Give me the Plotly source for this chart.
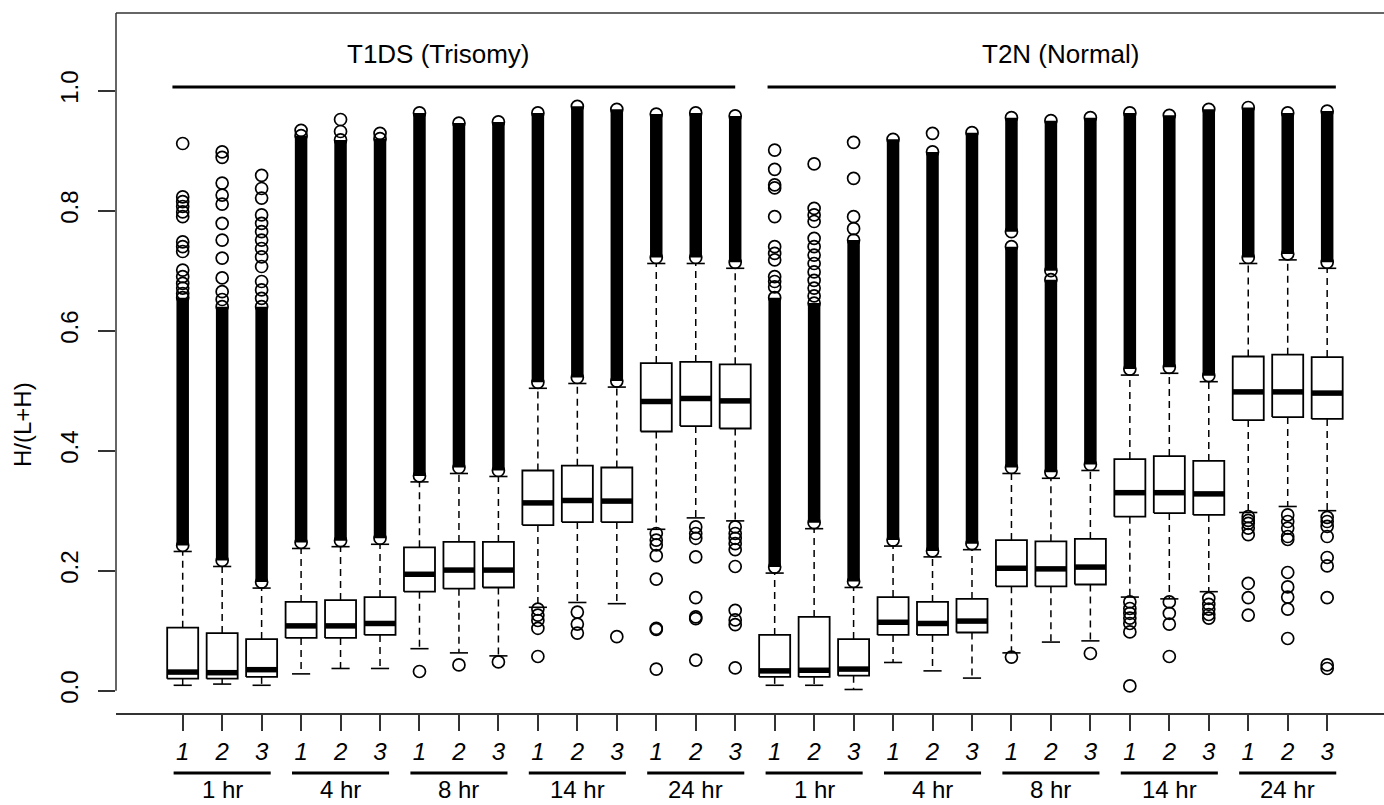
import plotly.graph_objects as go

# ---------------- data ----------------
groups = ["T1DS (Trisomy)", "T2N (Normal)"]
times = ["1 hr", "4 hr", "8 hr", "14 hr", "24 hr"]
reps = ["1", "2", "3"]

q1 = [0.020, 0.020, 0.023, 0.088, 0.088, 0.093, 0.165, 0.170, 0.172, 0.276, 0.281, 0.281, 0.432, 0.441, 0.437,
      0.023, 0.023, 0.025, 0.093, 0.093, 0.097, 0.174, 0.174, 0.177, 0.290, 0.296, 0.293, 0.451, 0.456, 0.453]
median = [0.031, 0.030, 0.035, 0.108, 0.108, 0.112, 0.194, 0.201, 0.201, 0.313, 0.317, 0.316, 0.482, 0.487, 0.483,
          0.033, 0.034, 0.036, 0.114, 0.112, 0.116, 0.204, 0.203, 0.206, 0.330, 0.330, 0.328, 0.498, 0.498, 0.496]
q3 = [0.105, 0.096, 0.086, 0.148, 0.151, 0.156, 0.239, 0.248, 0.248, 0.367, 0.375, 0.372, 0.546, 0.548, 0.544,
      0.093, 0.123, 0.086, 0.156, 0.148, 0.153, 0.251, 0.249, 0.253, 0.386, 0.391, 0.383, 0.557, 0.560, 0.556]
lower_whisker = [0.009, 0.011, 0.009, 0.028, 0.037, 0.037, 0.070, 0.063, 0.058, 0.139, 0.147, 0.145, 0.269, 0.288, 0.283,
                 0.009, 0.009, 0.002, 0.047, 0.033, 0.021, 0.063, 0.081, 0.083, 0.156, 0.153, 0.165, 0.297, 0.307, 0.300]
upper_whisker = [0.232, 0.207, 0.171, 0.237, 0.240, 0.244, 0.348, 0.362, 0.357, 0.504, 0.512, 0.506, 0.712, 0.712, 0.704,
                 0.196, 0.270, 0.172, 0.241, 0.223, 0.235, 0.362, 0.354, 0.367, 0.526, 0.529, 0.515, 0.712, 0.718, 0.704]

# dense runs of overlapping outlier circles (lowest / highest circle centre)
dense_lo = [0.242, 0.217, 0.181, 0.247, 0.250, 0.254, 0.358, 0.372, 0.367, 0.514, 0.522, 0.516, 0.722, 0.722, 0.714,
            0.206, 0.280, 0.182, 0.251, 0.233, 0.245, 0.372, 0.364, 0.377, 0.536, 0.539, 0.525, 0.722, 0.728, 0.714]
dense_hi = [0.655, 0.640, 0.640, 0.925, 0.918, 0.920, 0.963, 0.946, 0.948, 0.963, 0.974, 0.969, 0.961, 0.963, 0.958,
            0.655, 0.646, 0.751, 0.919, 0.898, 0.930, 0.955, 0.950, 0.955, 0.963, 0.959, 0.969, 0.972, 0.963, 0.966]
# visible gaps inside a dense run (None = no gap)
dense_gap_lo = [None] * 21 + [0.740, 0.685] + [None] * 7
dense_gap_hi = [None] * 21 + [0.765, 0.700] + [None] * 7

upper_outliers = [
    [0.912, 0.823, 0.815, 0.807, 0.798, 0.790, 0.748, 0.740, 0.732, 0.701, 0.690, 0.679, 0.671, 0.662],
    [0.898, 0.889, 0.846, 0.826, 0.811, 0.779, 0.751, 0.721, 0.688, 0.665, 0.652],
    [0.859, 0.837, 0.821, 0.793, 0.779, 0.765, 0.751, 0.737, 0.723, 0.707, 0.682, 0.668, 0.654],
    [0.934], [0.952, 0.932], [0.929],
    [], [], [], [], [], [], [], [], [],
    [0.901, 0.869, 0.843, 0.838, 0.790, 0.740, 0.729, 0.718, 0.690, 0.682, 0.673],
    [0.878, 0.804, 0.793, 0.782, 0.754, 0.740, 0.726, 0.712, 0.698, 0.684, 0.671, 0.658],
    [0.914, 0.854, 0.790, 0.770],
    [], [0.929], [],
    [], [], [], [], [], [], [], [], [],
]
lower_outliers = [
    [], [], [], [], [], [],
    [0.032], [0.043], [0.048],
    [0.136, 0.126, 0.117, 0.104, 0.057],
    [0.131, 0.111, 0.096],
    [0.090],
    [0.262, 0.251, 0.243, 0.225, 0.186, 0.104, 0.102, 0.036],
    [0.273, 0.262, 0.254, 0.223, 0.155, 0.123, 0.120, 0.051],
    [0.273, 0.262, 0.254, 0.245, 0.235, 0.207, 0.134, 0.118, 0.110, 0.038],
    [], [], [], [], [], [],
    [0.056], [], [0.062],
    [0.148, 0.137, 0.129, 0.121, 0.112, 0.098, 0.008],
    [0.148, 0.129, 0.111, 0.057],
    [0.154, 0.144, 0.136, 0.127, 0.121],
    [0.290, 0.284, 0.279, 0.271, 0.260, 0.179, 0.155, 0.126],
    [0.293, 0.282, 0.271, 0.257, 0.252, 0.197, 0.173, 0.156, 0.136, 0.087],
    [0.289, 0.282, 0.274, 0.257, 0.222, 0.208, 0.155, 0.043, 0.037],
]

y_ticks = [0.0, 0.2, 0.4, 0.6, 0.8, 1.0]
y_label = "H/(L+H)"

# ---------------- styling / layout constants ----------------
FONT = "Liberation Sans, Arial, Helvetica, sans-serif"
BOX_HW = 0.393
CAP_HW = 0.23
X_RANGE = [-0.69, 31.44]
Y_RANGE = [-0.0372, 1.1295]

n = len(q1)
xs = list(range(1, n + 1))

fig = go.Figure()

# whiskers (dashed)
wx, wy = [], []
for i, x in enumerate(xs):
    wx += [x, x, None, x, x, None]
    wy += [q3[i], upper_whisker[i], None, q1[i], lower_whisker[i], None]
fig.add_trace(go.Scatter(x=wx, y=wy, mode="lines", hoverinfo="skip",
                         line=dict(color="black", width=1.5, dash="7px,5px")))

# whisker caps
cx, cy = [], []
for i, x in enumerate(xs):
    for v in (lower_whisker[i], upper_whisker[i]):
        cx += [x - CAP_HW, x + CAP_HW, None]
        cy += [v, v, None]
fig.add_trace(go.Scatter(x=cx, y=cy, mode="lines", hoverinfo="skip",
                         line=dict(color="black", width=1.6)))

# boxes
bx, by = [], []
for i, x in enumerate(xs):
    bx += [x - BOX_HW, x + BOX_HW, x + BOX_HW, x - BOX_HW, x - BOX_HW, None]
    by += [q1[i], q1[i], q3[i], q3[i], q1[i], None]
fig.add_trace(go.Scatter(x=bx, y=by, mode="lines", fill="toself", fillcolor="white",
                         hoverinfo="skip", line=dict(color="black", width=1.8)))

# medians
mx, my = [], []
for i, x in enumerate(xs):
    mx += [x - BOX_HW, x + BOX_HW, None]
    my += [median[i], median[i], None]
fig.add_trace(go.Scatter(x=mx, y=my, mode="lines", hoverinfo="skip",
                         line=dict(color="black", width=5.5)))

# dense outlier runs
dx, dy = [], []
ends_x, ends_y = [], []
for i, x in enumerate(xs):
    if dense_gap_lo[i] is None:
        segs = [(dense_lo[i], dense_hi[i])]
    else:
        segs = [(dense_lo[i], dense_gap_lo[i]), (dense_gap_hi[i], dense_hi[i])]
    for lo, hi in segs:
        dx += [x, x, None]
        dy += [lo, hi, None]
        ends_x += [x, x]
        ends_y += [lo, hi]
fig.add_trace(go.Scatter(x=dx, y=dy, mode="lines", hoverinfo="skip",
                         line=dict(color="black", width=12.5)))

# individual outliers
ox, oy = list(ends_x), list(ends_y)
for i, x in enumerate(xs):
    for v in upper_outliers[i] + lower_outliers[i]:
        ox.append(x)
        oy.append(v)
fig.add_trace(go.Scatter(x=ox, y=oy, mode="markers", hoverinfo="skip",
                         marker=dict(symbol="circle-open", size=12, color="black",
                                     line=dict(width=1.7, color="black"))))

# ---------------- decorations ----------------
shapes = []
annotations = []
# frame: left line (down to 0) and top line
shapes.append(dict(type="line", xref="paper", yref="y", x0=0, x1=0, y0=y_ticks[0], y1=Y_RANGE[1],
                   line=dict(color="#333", width=1.5)))
shapes.append(dict(type="line", xref="paper", yref="paper", x0=0, x1=1, y0=1, y1=1,
                   line=dict(color="#333", width=1.5)))

header_line_x = [(0.74, 15.0), (15.82, 30.22)]
header_text_x = [7.47, 23.25]
for g, name in enumerate(groups):
    shapes.append(dict(type="line", xref="x", yref="y", x0=header_line_x[g][0], x1=header_line_x[g][1],
                       y0=1.006, y1=1.006, line=dict(color="black", width=3)))
    annotations.append(dict(x=header_text_x[g], y=1.061, xref="x", yref="y", text=name,
                            showarrow=False, yanchor="middle",
                            font=dict(family=FONT, size=26, color="black")))
    for t, tname in enumerate(times):
        mid = 1 + g * len(times) * len(reps) + t * len(reps) + 1
        shapes.append(dict(type="line", xref="x", yref="paper", x0=mid - 1.23, x1=mid + 1.23,
                           y0=-0.0857, y1=-0.0857, line=dict(color="black", width=3)))
        annotations.append(dict(x=mid, y=-0.1093, xref="x", yref="paper", text=tname,
                                showarrow=False, yanchor="middle", borderpad=0,
                                font=dict(family=FONT, size=24, color="black")))

annotations.append(dict(x=0, xshift=-94, y=0.4428, xref="paper", yref="y",
                        xanchor="center", yanchor="middle",
                        text=y_label, textangle=-90, showarrow=False,
                        font=dict(family=FONT, size=24, color="black")))

fig.update_layout(
    width=1384, height=805,
    margin=dict(l=116, r=0, t=13, b=92, pad=0, autoexpand=False),
    paper_bgcolor="white", plot_bgcolor="white",
    showlegend=False,
    font=dict(family=FONT, size=24, color="black"),
    shapes=shapes, annotations=annotations,
    xaxis=dict(range=X_RANGE, tickmode="array", tickvals=xs,
               ticktext=["<i>%s</i>" % reps[i % len(reps)] for i in range(n)],
               ticks="outside", ticklen=16, tickwidth=1.5, tickcolor="#333",
               showline=True, linecolor="#333", linewidth=1.5,
               showgrid=False, zeroline=False, fixedrange=True, automargin=False,
               tickfont=dict(family=FONT, size=24, color="black")),
    yaxis=dict(range=Y_RANGE, tickmode="array", tickvals=y_ticks,
               ticktext=["%.1f" % v for v in y_ticks], tickangle=-90,
               ticks="outside", ticklen=17, tickwidth=1.5, tickcolor="#333",
               ticklabelstandoff=10,
               showline=False, showgrid=False, zeroline=False, fixedrange=True, automargin=False,
               tickfont=dict(family=FONT, size=24, color="black")),
)

fig.write_html("out.html", config={"displayModeBar": False},
               post_script="document.body.style.margin='0';document.body.style.overflow='hidden';")
